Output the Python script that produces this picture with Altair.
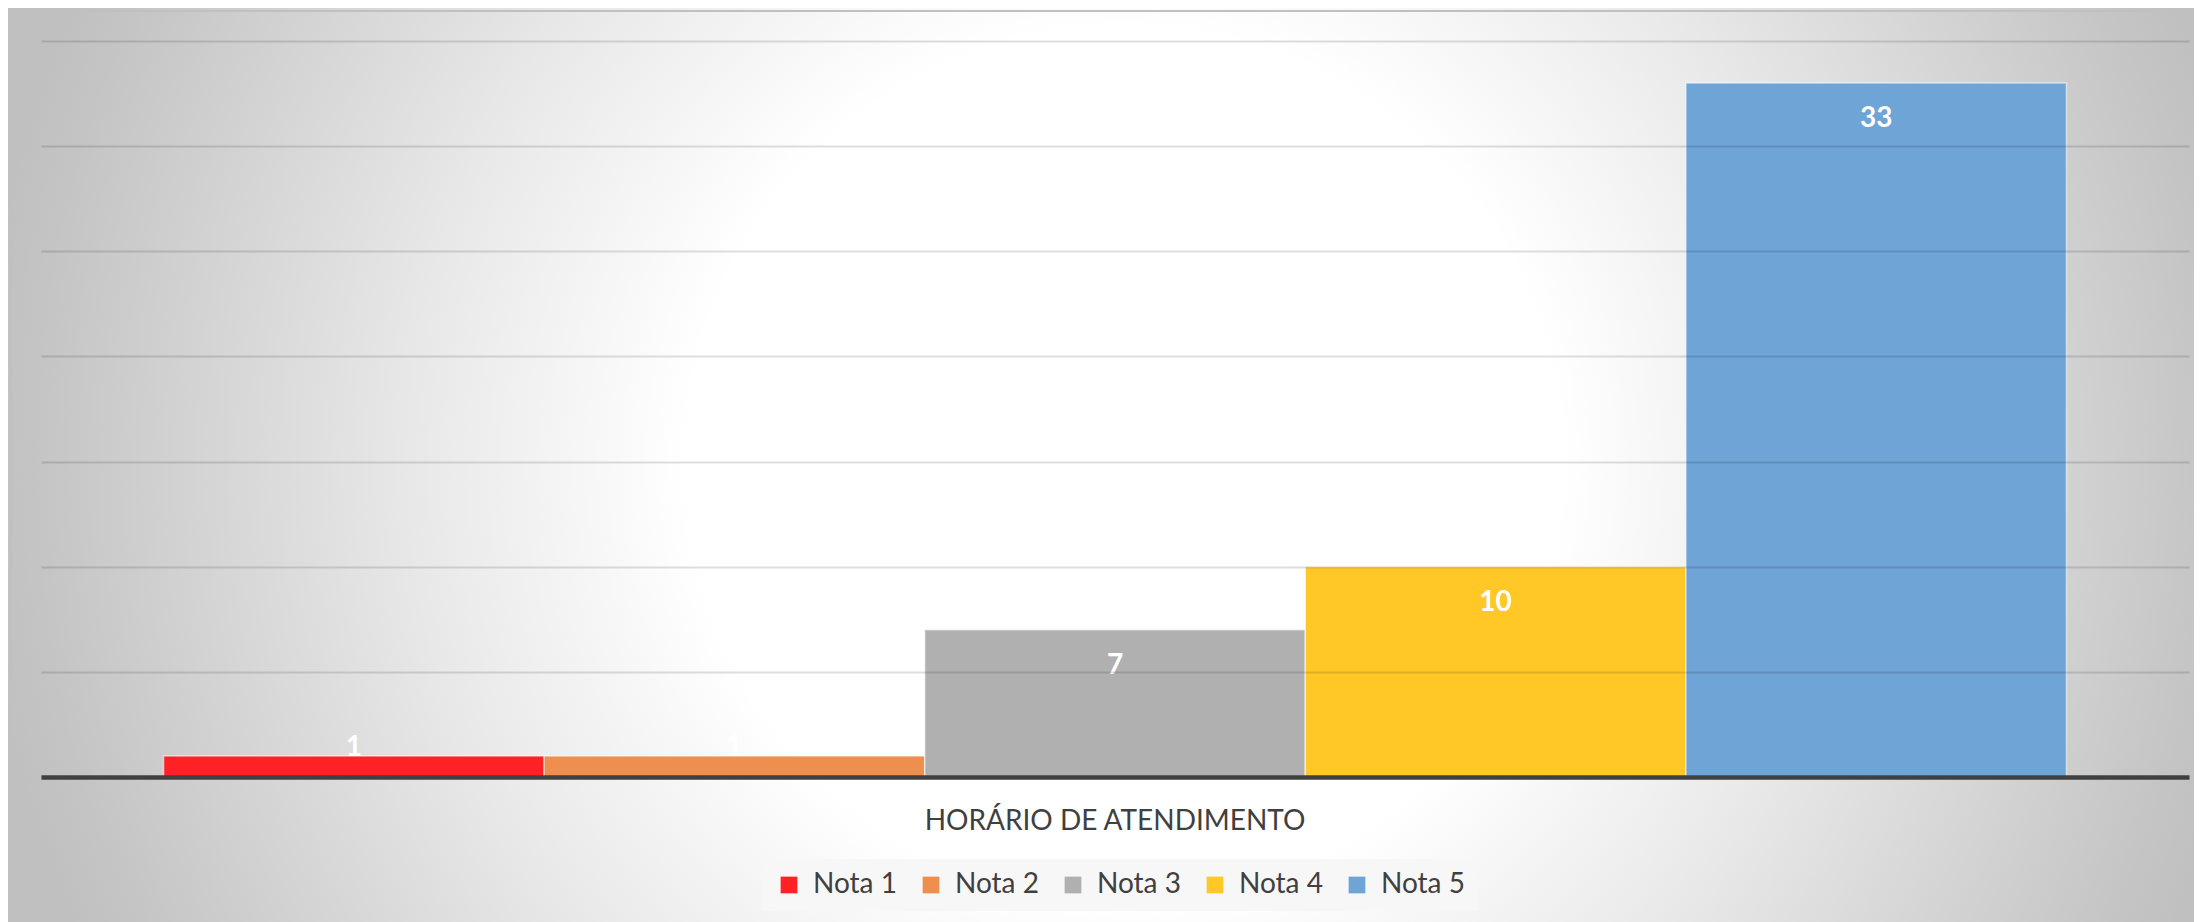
import altair as alt
import pandas as pd

# ---- data ----
categoria = "HORÁRIO DE ATENDIMENTO"
series = ["Nota 1", "Nota 2", "Nota 3", "Nota 4", "Nota 5"]
valores = [1, 1, 7, 10, 33]
cores = ["#FE2226", "#EE8F4F", "#B0B0B0", "#FFC826", "#6FA4D6"]
y_ticks = [0, 5, 10, 15, 20, 25, 30, 35]

df = pd.DataFrame({"cat": [categoria] * len(series), "serie": series, "valor": valores})

W, H = 2148, 736
FONT = "Lato"

bg_gradient = {
    "gradient": "radial",
    "x1": 0.5, "y1": 0.5, "r1": 0,
    "x2": 0.5, "y2": 0.5, "r2": 0.5,
    "stops": [
        {"offset": 0, "color": "#ffffff"},
        {"offset": 0.38, "color": "#ffffff"},
        {"offset": 0.62, "color": "#e8e8e8"},
        {"offset": 0.95, "color": "#c4c4c4"},
        {"offset": 1, "color": "#c0c0c0"},
    ],
}

one = pd.DataFrame({"k": [0]})

bg = alt.Chart(one).mark_rect(fill=bg_gradient, strokeWidth=0).encode(
    x=alt.value(-67), x2=alt.value(2233), y=alt.value(-727), y2=alt.value(1573)
)
frame = alt.Chart(one).mark_rect(filled=False, stroke="#c0c0c0", strokeWidth=2).encode(
    x=alt.value(-30), x2=alt.value(2400), y=alt.value(-30), y2=alt.value(1100)
)

x_axis = alt.Axis(
    title=None, ticks=False, tickSize=0, grid=False, domainColor="#404040", domainWidth=4.5,
    labelFont=FONT, labelFontSize=28, labelColor="#404040", labelPadding=30, labelAngle=0,
    labelLimit=0, zindex=1,
)
y_axis = alt.Axis(
    title=None, values=y_ticks, labels=False, ticks=False, domain=False,
    gridColor="#000000", gridOpacity=0.13, gridWidth=2, zindex=1,
)
x_enc = alt.X("cat:N", scale=alt.Scale(paddingOuter=0.0644, paddingInner=0), axis=x_axis)
xo_enc = alt.XOffset("serie:N", sort=series, scale=alt.Scale(paddingInner=0, paddingOuter=0))
y_scale = alt.Scale(domain=[0, 35], nice=False)

bars = alt.Chart(df).mark_bar(stroke="white", strokeOpacity=0.55, strokeWidth=1.5).encode(
    x=x_enc,
    xOffset=xo_enc,
    y=alt.Y("valor:Q", scale=y_scale, axis=y_axis),
    color=alt.Color(
        "serie:N",
        scale=alt.Scale(domain=series, range=cores),
        legend=alt.Legend(
            title=None, orient="none", legendX=722, legendY=818, direction="horizontal",
            columns=5, symbolType="square", symbolSize=280, symbolStrokeWidth=0,
            symbolOpacity=1, labelFont=FONT, labelFontSize=28, labelColor="#404040",
            labelOffset=10, columnPadding=20, padding=12, fillColor="#f7f7f7",
        ),
    ),
)

labels = alt.Chart(df).transform_calculate(pos="max(datum.valor, 3.1)").mark_text(
    color="white", fontWeight="bold", fontSize=28, font=FONT, baseline="middle", dy=36
).encode(
    x=x_enc,
    xOffset=xo_enc,
    y=alt.Y("pos:Q", scale=y_scale, axis=y_axis),
    text=alt.Text("valor:Q"),
)

chart = alt.layer(bg, frame, bars, labels).properties(
    width=W, height=H,
    autosize=alt.AutoSizeParams(type="none"),
    padding={"left": 33, "top": 33, "right": 5, "bottom": 145},
).configure_view(stroke=None).configure(background="white")

chart.save("out.html", embed_options={"renderer": "svg", "actions": False})
